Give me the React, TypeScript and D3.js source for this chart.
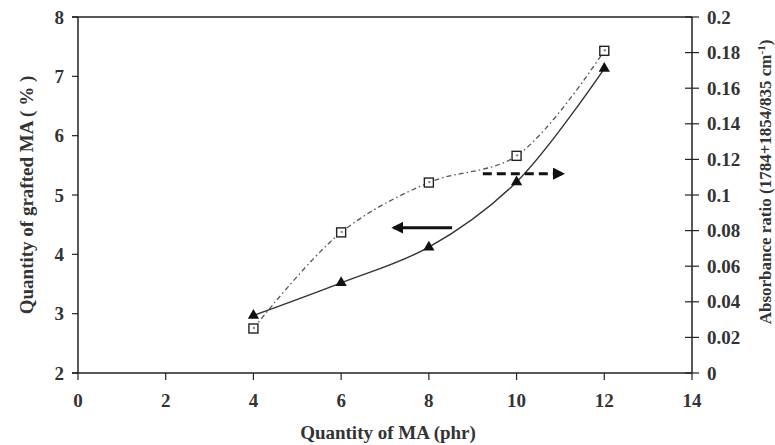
import React, { useRef, useEffect } from 'react';
import * as d3 from 'd3';

const maQuantity = [4, 6, 8, 10, 12];
const graftedMA = [2.97, 3.52, 4.12, 5.22, 7.13];
const absorbanceRatio = [0.025, 0.079, 0.107, 0.122, 0.181];

const xTicks = [0, 2, 4, 6, 8, 10, 12, 14];
const leftTicks = [2, 3, 4, 5, 6, 7, 8];
const rightTicks = [0, 0.02, 0.04, 0.06, 0.08, 0.1, 0.12, 0.14, 0.16, 0.18, 0.2];

// annotation arrows: [x1, x2, y] in data units
const leftArrow = [8.53, 7.2, 4.45];
const rightArrow = [9.23, 11.05, 0.112];

const WIDTH = 775;
const HEIGHT = 445;
const FONT = '"Liberation Serif", "DejaVu Serif", serif';

const App: React.FC = () => {
  const svgRef = useRef<SVGSVGElement>(null);

  useEffect(() => {
    const svg = d3.select(svgRef.current);
    svg.selectAll('*').remove();

    svg.append('rect').attr('width', WIDTH).attr('height', HEIGHT).attr('fill', '#fff');

    const x = d3.scaleLinear().domain([0, 14]).range([78, 692]);
    const yL = d3.scaleLinear().domain([2, 8]).range([373, 17]);
    const yR = d3.scaleLinear().domain([0, 0.2]).range([373, 17]);

    const axisColor = '#222';
    const textColor = '#333';

    // Frame: left, bottom, right axes and top line
    svg.append('line').attr('x1', x(0)).attr('x2', x(0)).attr('y1', yL(8)).attr('y2', yL(2))
      .attr('stroke', axisColor).attr('stroke-width', 1.5);
    svg.append('line').attr('x1', x(14)).attr('x2', x(14)).attr('y1', yL(8)).attr('y2', yL(2))
      .attr('stroke', axisColor).attr('stroke-width', 1.5);
    svg.append('line').attr('x1', x(0) - 6).attr('x2', x(14)).attr('y1', yL(2)).attr('y2', yL(2))
      .attr('stroke', axisColor).attr('stroke-width', 1.5);
    svg.append('line').attr('x1', x(0) - 6).attr('x2', x(14)).attr('y1', yL(8)).attr('y2', yL(8))
      .attr('stroke', axisColor).attr('stroke-width', 1.5);

    // Left ticks
    const left = svg.append('g');
    left.selectAll('line').data(leftTicks).enter().append('line')
      .attr('x1', x(0) - 6).attr('x2', x(0)).attr('y1', d => yL(d)).attr('y2', d => yL(d))
      .attr('stroke', axisColor).attr('stroke-width', 1.2);
    left.selectAll('text').data(leftTicks).enter().append('text')
      .attr('x', 64).attr('y', d => yL(d)).attr('dy', '0.35em')
      .attr('text-anchor', 'end').attr('font-family', FONT).attr('font-weight', 'bold')
      .attr('font-size', 19).attr('fill', textColor).text(d => d);

    // Right ticks
    const right = svg.append('g');
    right.selectAll('line').data(rightTicks).enter().append('line')
      .attr('x1', x(14) - 7).attr('x2', x(14) + 7).attr('y1', d => yR(d)).attr('y2', d => yR(d))
      .attr('stroke', axisColor).attr('stroke-width', 1.2);
    right.selectAll('text').data(rightTicks).enter().append('text')
      .attr('x', 707).attr('y', d => yR(d)).attr('dy', '0.35em')
      .attr('font-family', FONT).attr('font-weight', 'bold')
      .attr('font-size', 19).attr('fill', textColor).text(d => String(d));

    // Bottom ticks
    const bottom = svg.append('g');
    bottom.selectAll('line').data(xTicks).enter().append('line')
      .attr('x1', d => x(d)).attr('x2', d => x(d)).attr('y1', yL(2)).attr('y2', yL(2) + 7)
      .attr('stroke', axisColor).attr('stroke-width', 1.2);
    bottom.selectAll('text').data(xTicks).enter().append('text')
      .attr('x', d => x(d)).attr('y', 407)
      .attr('text-anchor', 'middle').attr('font-family', FONT).attr('font-weight', 'bold')
      .attr('font-size', 19).attr('fill', textColor).text(d => d);

    // Axis titles
    svg.append('text')
      .attr('x', 388).attr('y', 439).attr('text-anchor', 'middle')
      .attr('font-family', FONT).attr('font-weight', 'bold').attr('font-size', 19).attr('fill', textColor)
      .text('Quantity of MA (phr)');
    svg.append('text')
      .attr('transform', `translate(33,${(yL(2) + yL(8)) / 2}) rotate(-90)`)
      .attr('text-anchor', 'middle')
      .attr('font-family', FONT).attr('font-weight', 'bold').attr('font-size', 19).attr('fill', textColor)
      .text('Quantity of grafted MA ( % )');
    const rt = svg.append('text')
      .attr('transform', `translate(771,182) rotate(-90)`)
      .attr('text-anchor', 'middle')
      .attr('font-family', FONT).attr('font-weight', 'bold').attr('font-size', 17).attr('fill', textColor);
    rt.append('tspan').text('Absorbance ratio (1784+1854/835 cm');
    rt.append('tspan').attr('baseline-shift', 'super').attr('font-size', 11).text('-1');
    rt.append('tspan').text(')');

    // Series lines
    const ptsL = maQuantity.map((m, i) => [x(m), yL(graftedMA[i])] as [number, number]);
    const ptsR = maQuantity.map((m, i) => [x(m), yR(absorbanceRatio[i])] as [number, number]);
    const line = d3.line().curve(d3.curveCatmullRom.alpha(0.5));

    svg.append('path').attr('d', line(ptsR)).attr('fill', 'none')
      .attr('stroke', '#555').attr('stroke-width', 1.3).attr('stroke-dasharray', '5,3,1.5,3');
    svg.append('path').attr('d', line(ptsL)).attr('fill', 'none')
      .attr('stroke', '#333').attr('stroke-width', 1.4);

    // Markers
    const tri = d3.symbol().type(d3.symbolTriangle).size(55);
    svg.append('g').selectAll('path').data(ptsL).enter().append('path')
      .attr('d', tri()).attr('transform', d => `translate(${d[0]},${d[1]})`).attr('fill', '#111');
    const sq = svg.append('g');
    sq.selectAll('rect').data(ptsR).enter().append('rect')
      .attr('x', d => d[0] - 4.5).attr('y', d => d[1] - 4.5).attr('width', 9).attr('height', 9)
      .attr('fill', '#fff').attr('stroke', '#222').attr('stroke-width', 1.4);
    sq.selectAll('circle').data(ptsR).enter().append('circle')
      .attr('cx', d => d[0] + 0.5).attr('cy', d => d[1] - 0.5).attr('r', 1.2).attr('fill', '#888');

    // Arrows
    const defs = svg.append('defs');
    defs.append('marker').attr('id', 'ah').attr('viewBox', '0 0 10 10').attr('refX', 8).attr('refY', 5)
      .attr('markerWidth', 4).attr('markerHeight', 4).attr('orient', 'auto')
      .append('path').attr('d', 'M0,0 L10,5 L0,10 Z').attr('fill', '#111');
    svg.append('line')
      .attr('x1', x(leftArrow[0])).attr('x2', x(leftArrow[1]))
      .attr('y1', yL(leftArrow[2])).attr('y2', yL(leftArrow[2]))
      .attr('stroke', '#111').attr('stroke-width', 3).attr('marker-end', 'url(#ah)');
    svg.append('line')
      .attr('x1', x(rightArrow[0])).attr('x2', x(rightArrow[1]))
      .attr('y1', yR(rightArrow[2])).attr('y2', yR(rightArrow[2]))
      .attr('stroke', '#111').attr('stroke-width', 3).attr('stroke-dasharray', '9,5')
      .attr('marker-end', 'url(#ah)');
  }, []);

  return (
    <svg
      ref={svgRef}
      width={WIDTH}
      height={HEIGHT}
      style={{ position: 'absolute', left: 0, top: 0, display: 'block' }}
    />
  );
};

export default App;
